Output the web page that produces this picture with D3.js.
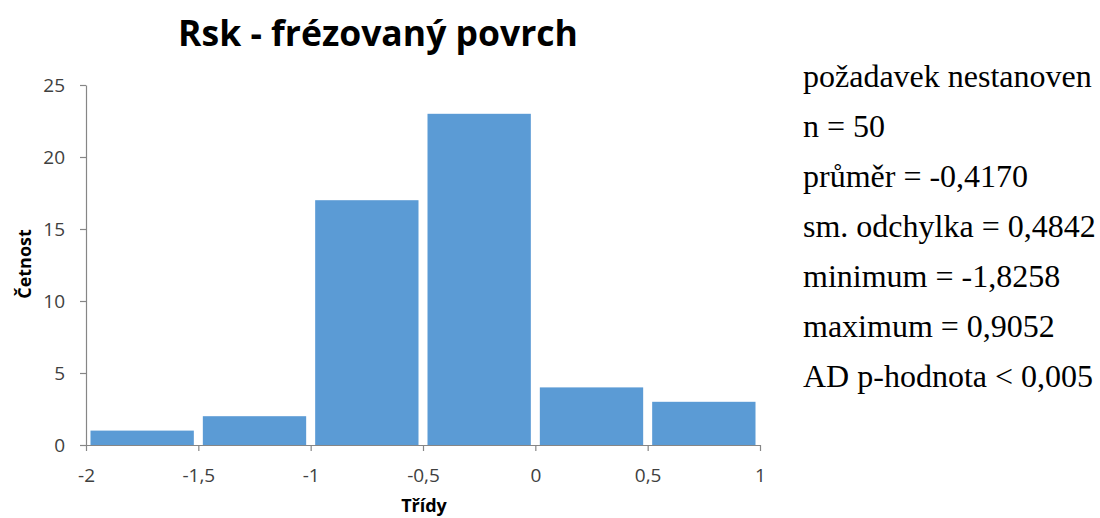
<!DOCTYPE html>
<html>
<head>
<meta charset="utf-8">
<script src="https://cdn.jsdelivr.net/npm/d3@7"></script>
<style>
  body { margin: 0; background: #fff; }
  svg { display: block; }
</style>
</head>
<body>
<svg id="chart" width="1100" height="518"></svg>
<script>
// Histogram bins (class edges) and counts
const binStarts = [-2, -1.5, -1, -0.5, 0, 0.5];
const binWidth = 0.5;
const counts = [1, 2, 17, 23, 4, 3];
const xTicks = [-2, -1.5, -1, -0.5, 0, 0.5, 1];
const yTicks = [0, 5, 10, 15, 20, 25];
const statsLines = [
  "požadavek nestanoven",
  "n = 50",
  "průměr = -0,4170",
  "sm. odchylka = 0,4842",
  "minimum = -1,8258",
  "maximum = 0,9052",
  "AD p-hodnota < 0,005"
];

const svg = d3.select("#chart");
const plot = { left: 86, right: 760, top: 85, bottom: 445 };
const axisColor = "#868686";
const labelFont = "'Open Sans', sans-serif";

const x = d3.scaleLinear().domain([-2, 1]).range([plot.left, plot.right]);
const y = d3.scaleLinear().domain([0, 25]).range([plot.bottom, plot.top]);

// Bars
const gap = 4.5;
svg.append("g").selectAll("rect")
  .data(binStarts.map((s, i) => ({ s, c: counts[i] })))
  .join("rect")
  .attr("x", d => x(d.s) + gap)
  .attr("width", d => x(d.s + binWidth) - x(d.s) - 2 * gap)
  .attr("y", d => y(d.c))
  .attr("height", d => y(0) - y(d.c))
  .attr("fill", "#5B9BD5");

// Axes
const fmt = d => String(d).replace(".", ",");
const xAxis = svg.append("g")
  .attr("transform", `translate(0,${plot.bottom})`)
  .call(d3.axisBottom(x).tickValues(xTicks).tickFormat(fmt).tickSize(6).tickSizeOuter(0).tickPadding(18));
const yAxis = svg.append("g")
  .attr("transform", `translate(${plot.left},0)`)
  .call(d3.axisLeft(y).tickValues(yTicks).tickSize(6).tickSizeOuter(0).tickPadding(15));

[xAxis, yAxis].forEach(g => {
  g.select(".domain").attr("stroke", axisColor).attr("stroke-width", 1.2);
  g.selectAll(".tick line").attr("stroke", axisColor).attr("stroke-width", 1.2);
  g.selectAll(".tick text")
    .attr("fill", "#404040")
    .attr("font-family", labelFont)
    .attr("font-size", 19);
});

// Title
svg.append("text")
  .attr("x", 378).attr("y", 46)
  .attr("text-anchor", "middle")
  .attr("font-family", labelFont)
  .attr("font-weight", "bold")
  .attr("font-size", 35.5)
  .attr("fill", "#000")
  .text("Rsk - frézovaný povrch");

// Axis titles
svg.append("text")
  .attr("transform", "translate(31,264) rotate(-90)")
  .attr("text-anchor", "middle")
  .attr("font-family", labelFont)
  .attr("font-weight", "bold")
  .attr("font-size", 18)
  .attr("fill", "#000")
  .text("Četnost");

svg.append("text")
  .attr("x", 424).attr("y", 512)
  .attr("text-anchor", "middle")
  .attr("font-family", labelFont)
  .attr("font-weight", "bold")
  .attr("font-size", 18)
  .attr("fill", "#000")
  .text("Třídy");

// Summary statistics
svg.append("g").selectAll("text")
  .data(statsLines)
  .join("text")
  .attr("x", 803)
  .attr("y", (d, i) => 87 + i * 50)
  .attr("font-family", "'Liberation Serif', 'Times New Roman', serif")
  .attr("font-size", 32)
  .attr("fill", "#000")
  .text(d => d);
</script>
</body>
</html>
